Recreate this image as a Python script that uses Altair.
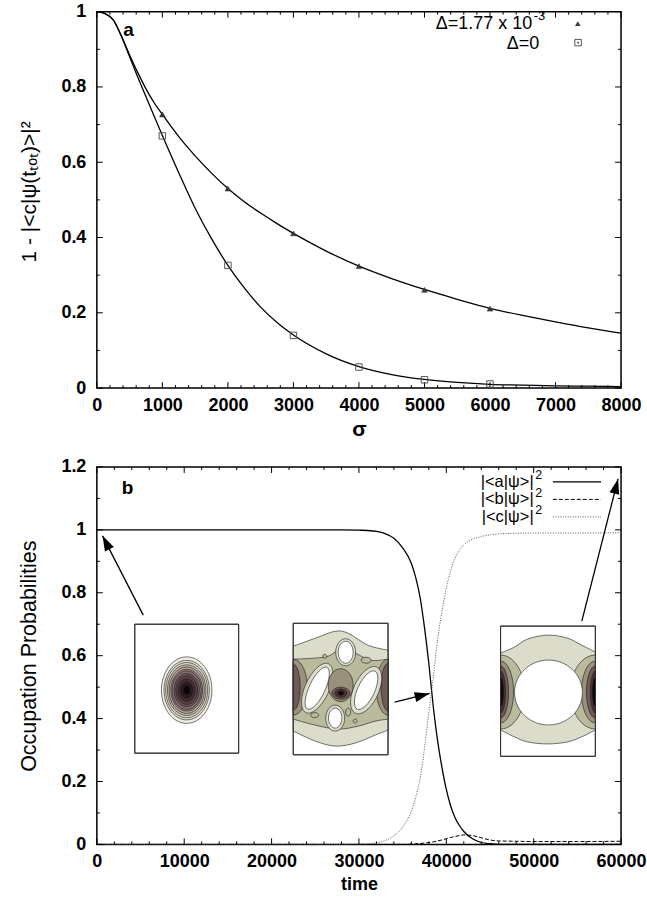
import math
import altair as alt
import pandas as pd

FONT = "Liberation Sans"

# ---------------- panel a: infidelity versus pulse width ----------------
SIGMA_FIT = [0, 125, 250, 375, 500, 625, 750, 875, 1000, 1250, 1500, 1750, 2000, 2250, 2500,
             2750, 3000, 3500, 4000, 4500, 5000, 5500, 6000, 6500, 7000, 7500, 8000]
FIT_DETUNED = [1.0, 0.995, 0.978, 0.935, 0.885, 0.838, 0.795, 0.758, 0.727, 0.668, 0.617,
               0.571, 0.530, 0.495, 0.465, 0.437, 0.411, 0.364, 0.324, 0.291, 0.262,
               0.236, 0.212, 0.193, 0.176, 0.160, 0.146]
FIT_RESONANT = [1.0, 0.995, 0.978, 0.935, 0.880, 0.826, 0.774, 0.722, 0.671, 0.572, 0.478,
                0.397, 0.326, 0.266, 0.215, 0.174, 0.141, 0.091, 0.057, 0.036, 0.023,
                0.015, 0.010, 0.008, 0.006, 0.005, 0.004]
SIGMA_SIM = [1000, 2000, 3000, 4000, 5000, 6000]
SIM_DETUNED = [0.727, 0.530, 0.411, 0.324, 0.261, 0.211]
SIM_RESONANT = [0.670, 0.326, 0.140, 0.056, 0.022, 0.011]

# ---------------- panel b: occupation probabilities in time ----------------
TIME = [0, 10000, 20000, 28000, 30000, 31000, 32000, 33000, 34000, 35000, 36000, 36500,
        37000, 37500, 38000, 38500, 39000, 39500, 40000, 40500, 41000, 41500, 42000,
        43000, 44000, 45000, 46000, 48000, 50000, 55000, 60000]
POP_A = [1.0, 1.0, 1.0, 1.0, 0.999, 0.998, 0.995, 0.988, 0.973, 0.943, 0.893, 0.848,
         0.785, 0.69, 0.575, 0.44, 0.33, 0.245, 0.175, 0.122, 0.085, 0.06, 0.041,
         0.018, 0.006, 0.002, 0.0, 0.0, 0.0, 0.0, 0.0]
POP_B = [0.0, 0.0, 0.0, 0.0, 0.0, 0.0, 0.0, 0.0, 0.0, 0.0, 0.001, 0.002,
         0.003, 0.004, 0.006, 0.008, 0.011, 0.014, 0.018, 0.022, 0.025, 0.028, 0.030,
         0.028, 0.021, 0.014, 0.011, 0.010, 0.009, 0.009, 0.010]
POP_C = [0.0, 0.0, 0.0, 0.0, 0.001, 0.002, 0.005, 0.012, 0.027, 0.055, 0.105, 0.15,
         0.21, 0.305, 0.42, 0.53, 0.65, 0.74, 0.815, 0.87, 0.91, 0.935, 0.952,
         0.97, 0.979, 0.984, 0.987, 0.989, 0.99, 0.99, 0.991]

# wavefunction snapshots: frames in (time, probability) coordinates
INSET_T0 = [4340, 22480, 46210]
INSET_T1 = [16230, 33330, 57060]
INSET_P0 = [0.29, 0.285, 0.28]
INSET_P1 = [0.70, 0.703, 0.694]

# arrows tying the snapshots to the curves
ARROW_T_TAIL = [5310, 34090, 55510]
ARROW_P_TAIL = [0.729, 0.452, 0.710]
ARROW_T_TIP = [650, 38090, 59660]
ARROW_P_TIP = [0.981, 0.480, 1.162]

W, H_A, H_B = 525, 377, 378
T_MAX, P_MAX = 60000, 1.2
PX_T = W / T_MAX
PX_P = H_B / P_MAX

xs_a = alt.Scale(domain=[0, 8000], nice=False, zero=False)
ys_a = alt.Scale(domain=[0, 1], nice=False, zero=False)
xs_b = alt.Scale(domain=[0, T_MAX], nice=False, zero=False)
ys_b = alt.Scale(domain=[0, P_MAX], nice=False, zero=False)

ax_xa = alt.Axis(values=list(range(0, 8001, 1000)), format="d", title="σ",
                 titleFontSize=21, titleFontWeight="bold", labelPadding=8, titlePadding=4)
ax_ya = alt.Axis(values=[0, 0.2, 0.4, 0.6, 0.8, 1], format="~g",
                 title="1 - |<c|ψ(tₜₒₜ)>|²", titleFontSize=21, titleFontWeight="normal",
                 labelPadding=11, minExtent=40, maxExtent=40, titlePadding=17, titleY=180)
ax_xb = alt.Axis(values=list(range(0, 60001, 10000)), format="d", title="time",
                 titleFontSize=18, titleFontWeight="bold", labelPadding=8.5, titlePadding=5)
ax_yb = alt.Axis(values=[0, 0.2, 0.4, 0.6, 0.8, 1, 1.2], format="~g",
                 title="Occupation Probabilities", titleFontSize=21.5,
                 titleFontWeight="normal", labelPadding=11, minExtent=40, maxExtent=40,
                 titlePadding=16.5)


def frame_ticks(xs, ys, ax, ay, xmaj, xmin, ymaj, ymin, w, h):
    """Inward ticks on all four sides of the frame."""
    out = []
    for vals, ln in ((xmaj, 6), (xmin, 3)):
        d = pd.DataFrame({"v": vals})
        base = alt.Chart(d).mark_rule(color="black", strokeWidth=1)
        out.append(base.encode(x=alt.X("v:Q", scale=xs, axis=ax),
                               y=alt.value(h), y2=alt.value(h - ln)))
        out.append(base.encode(x=alt.X("v:Q", scale=xs, axis=ax),
                               y=alt.value(0), y2=alt.value(ln)))
    for vals, ln in ((ymaj, 6), (ymin, 3)):
        d = pd.DataFrame({"v": vals})
        base = alt.Chart(d).mark_rule(color="black", strokeWidth=1)
        out.append(base.encode(y=alt.Y("v:Q", scale=ys, axis=ay),
                               x=alt.value(0), x2=alt.value(ln)))
        out.append(base.encode(y=alt.Y("v:Q", scale=ys, axis=ay),
                               x=alt.value(w), x2=alt.value(w - ln)))
    return out


def text_at(s, x, y, size=18, align="left", weight="normal"):
    return alt.Chart(pd.DataFrame({"s": [s]})).mark_text(
        align=align, baseline="alphabetic", font=FONT, fontSize=size,
        fontWeight=weight, color="black"
    ).encode(x=alt.value(x), y=alt.value(y), text="s:N")


# ---------------- contour drawing helpers (local pixel units) ----------------
K = 0.5523


def _fmt(pts):
    return " ".join(f"{x:.2f},{y:.2f}" for x, y in pts)


def ellipse_path(cx, cy, rx, ry, rot=0.0):
    a = math.radians(rot)
    c, s = math.cos(a), math.sin(a)
    raw = [(0, -ry), (K * rx, -ry), (rx, -K * ry), (rx, 0), (rx, K * ry), (K * rx, ry),
           (0, ry), (-K * rx, ry), (-rx, K * ry), (-rx, 0), (-rx, -K * ry), (-K * rx, -ry),
           (0, -ry)]
    p = [(cx + x * c - y * s, cy + x * s + y * c) for x, y in raw]
    return (f"M{_fmt(p[:1])} C{_fmt(p[1:4])} C{_fmt(p[4:7])} "
            f"C{_fmt(p[7:10])} C{_fmt(p[10:13])} Z")


def half_ellipse_path(x0, cy, rx, ry, d):
    p = [(x0, cy - ry), (x0 + d * K * rx, cy - ry), (x0 + d * rx, cy - K * ry),
         (x0 + d * rx, cy), (x0 + d * rx, cy + K * ry), (x0 + d * K * rx, cy + ry),
         (x0, cy + ry)]
    return f"M{_fmt(p[:1])} C{_fmt(p[1:4])} C{_fmt(p[4:7])} Z"


def _smooth(pts):
    segs = []
    n = len(pts)
    for i in range(n - 1):
        p0 = pts[max(i - 1, 0)]
        p1, p2 = pts[i], pts[i + 1]
        p3 = pts[min(i + 2, n - 1)]
        c1 = (p1[0] + (p2[0] - p0[0]) / 6, p1[1] + (p2[1] - p0[1]) / 6)
        c2 = (p2[0] - (p3[0] - p1[0]) / 6, p2[1] - (p3[1] - p1[1]) / 6)
        segs.append(f"C{_fmt([c1, c2, p2])}")
    return " ".join(segs)


def band_path(top, bottom):
    bot = list(reversed(bottom))
    return (f"M{_fmt(top[:1])} {_smooth(top)} L{_fmt(bot[:1])} {_smooth(bot)} Z")


LIGHT, OLIVE, TAUPE = "#dcdccb", "#babb9d", "#9a907c"
BROWN, DARK, BLACK = "#6f5a55", "#4a3432", "#120808"
RING_COLORS = ["#eeede3", "#e4e1d3", "#d8d3c3", "#c9c0b2", "#b5a79e", "#9f8a86",
               "#886f71", "#70575c", "#5a4248", "#432e33", "#2b1a1e", "#0a0505"]
RING_FRAC = [1.0, 0.895, 0.83, 0.76, 0.70, 0.63, 0.58, 0.50, 0.43, 0.34, 0.24, 0.13]

shapes = []


def add(i, path, fill):
    shapes.append({"t": INSET_T0[i], "p": INSET_P1[i], "path": path, "fill": fill,
                   "z": len(shapes)})


# snapshot 1: localized ground-state packet
for f, col in zip(RING_FRAC, RING_COLORS):
    add(0, ellipse_path(52, 66, 25.3 * f, 33.3 * f), col)

# snapshot 2: mid-transfer pattern
add(1, band_path([(0, 23), (22, 15), (42, 8), (55, 10), (75, 22), (95, 27)],
                 [(0, 108), (22, 118), (42, 123), (62, 120), (82, 112), (95, 107)]), LIGHT)
add(1, band_path([(0, 36), (20, 35), (35, 33), (48, 26), (62, 30), (78, 37), (95, 36)],
                 [(0, 96), (22, 102), (45, 106), (65, 103), (82, 98), (95, 96)]), OLIVE)
add(1, half_ellipse_path(0, 64, 14, 28, 1), TAUPE)
add(1, half_ellipse_path(0, 64, 7, 23, 1), BROWN)
add(1, half_ellipse_path(95, 64, 12, 28, -1), TAUPE)
add(1, half_ellipse_path(95, 64, 7, 24, -1), BROWN)
add(1, ellipse_path(52.5, 29, 10, 13.5), LIGHT)
add(1, ellipse_path(24, 65, 12, 27, 25), LIGHT)
add(1, ellipse_path(73, 67, 12.5, 25.5, 25), LIGHT)
add(1, ellipse_path(42, 95, 9.5, 13), LIGHT)
add(1, ellipse_path(47.5, 62, 12.5, 16.5), TAUPE)
add(1, ellipse_path(52.5, 29, 7.5, 11), "#ffffff")
add(1, ellipse_path(24, 65, 8, 23, 25), "#ffffff")
add(1, ellipse_path(73, 67, 8.5, 21, 25), "#ffffff")
add(1, ellipse_path(42, 95, 6.7, 10), "#ffffff")
add(1, ellipse_path(73, 37, 5, 3), OLIVE)
add(1, ellipse_path(31.5, 33, 2, 2), OLIVE)
add(1, ellipse_path(55, 89, 2.5, 4), OLIVE)
add(1, ellipse_path(21.5, 92, 4, 2.5), OLIVE)
add(1, ellipse_path(62, 98, 2, 2), OLIVE)
add(1, ellipse_path(47.7, 70, 9, 6), BROWN)
add(1, ellipse_path(47.7, 70, 6, 4), DARK)
add(1, ellipse_path(47.7, 70, 3, 2), BLACK)

# snapshot 3: packet transferred to the outer well
add(2, band_path([(0, 27), (14, 21), (27, 13), (47, 9), (67, 12), (81, 19), (95, 26)],
                 [(0, 104), (14, 111), (27, 116), (47, 118), (67, 116), (81, 111), (95, 104)]),
    LIGHT)
for rx_l, rx_r, ry, col in ((24, 25, 37, OLIVE), (13, 14, 31, TAUPE), (8, 9, 26, BROWN),
                            (5, 5, 21, DARK), (3, 3, 15, BLACK)):
    add(2, half_ellipse_path(0, 66, rx_l, ry, 1), col)
    add(2, half_ellipse_path(95, 66, rx_r, ry, -1), col)
add(2, ellipse_path(48, 66.5, 34, 32.5), "#ffffff")

shapes_df = pd.DataFrame(shapes)

# ---------------- panel a ----------------
fit_df = pd.concat([
    pd.DataFrame({"sigma": SIGMA_FIT, "val": FIT_DETUNED, "run": "detuned"}),
    pd.DataFrame({"sigma": SIGMA_FIT, "val": FIT_RESONANT, "run": "resonant"}),
])
curves_a = alt.Chart(fit_df).mark_line(
    color="black", strokeWidth=1.3, interpolate="monotone"
).encode(
    x=alt.X("sigma:Q", scale=xs_a, axis=ax_xa),
    y=alt.Y("val:Q", scale=ys_a, axis=ax_ya),
    detail="run:N",
)
tri = alt.Chart(pd.DataFrame({"sigma": SIGMA_SIM, "val": SIM_DETUNED})).mark_point(
    shape="triangle-up", filled=True, size=32, color="#3a3a3a", opacity=1,
    stroke="#222222", strokeWidth=0.5
).encode(x=alt.X("sigma:Q", scale=xs_a, axis=ax_xa), y=alt.Y("val:Q", scale=ys_a, axis=ax_ya))
sqr = alt.Chart(pd.DataFrame({"sigma": SIGMA_SIM, "val": SIM_RESONANT})).mark_point(
    shape="square", filled=False, size=42, color="#555555", opacity=1, strokeWidth=1
).encode(x=alt.X("sigma:Q", scale=xs_a, axis=ax_xa), y=alt.Y("val:Q", scale=ys_a, axis=ax_ya))

one = pd.DataFrame({"k": [0]})
legend_a = [
    text_at("Δ=1.77 x 10", 436, 17, align="right"),
    text_at("-3", 437.5, 8.5, size=13),
    text_at("Δ=0", 443, 37.5, align="right"),
    alt.Chart(one).mark_point(shape="triangle-up", filled=True, size=32, color="#3a3a3a",
                              opacity=1).encode(x=alt.value(481.7), y=alt.value(12)),
    alt.Chart(one).mark_point(shape="square", filled=False, size=42, color="#555555",
                              opacity=1, strokeWidth=1).encode(x=alt.value(482), y=alt.value(31)),
    alt.Chart(one).mark_point(shape="square", filled=True, size=3, color="#555555",
                              opacity=1).encode(x=alt.value(482), y=alt.value(31)),
    text_at("a", 31.7, 24.7, size=19, align="center", weight="bold"),
]

ticks_a = frame_ticks(
    xs_a, ys_a, ax_xa, ax_ya,
    list(range(0, 8001, 1000)), [v for v in range(0, 8001, 200) if v % 1000],
    [0, 0.2, 0.4, 0.6, 0.8, 1.0], [0.1, 0.3, 0.5, 0.7, 0.9],
    W, H_A)

panel_a = alt.layer(curves_a, *ticks_a, tri, sqr, *legend_a).properties(width=W, height=H_A)

# ---------------- panel b ----------------
pop_df = pd.DataFrame({"time": TIME, "a": POP_A, "b": POP_B, "c": POP_C})
xb = alt.X("time:Q", scale=xs_b, axis=ax_xb)
line_a = alt.Chart(pop_df).mark_line(color="black", strokeWidth=1.3,
                                     interpolate="monotone").encode(
    x=xb, y=alt.Y("a:Q", scale=ys_b, axis=ax_yb))
line_b = alt.Chart(pop_df).mark_line(color="black", strokeWidth=1, strokeDash=[4, 2],
                                     interpolate="monotone").encode(
    x=xb, y=alt.Y("b:Q", scale=ys_b, axis=ax_yb))
line_c = alt.Chart(pop_df).mark_line(color="#555555", strokeWidth=1, strokeDash=[1, 1.5],
                                     interpolate="monotone").encode(
    x=xb, y=alt.Y("c:Q", scale=ys_b, axis=ax_yb))

box_df = pd.DataFrame({"t0": INSET_T0, "t1": INSET_T1, "p0": INSET_P0, "p1": INSET_P1})
boxes = alt.Chart(box_df).mark_rect(fill="white", stroke="#333333", strokeWidth=1).encode(
    x=alt.X("t0:Q", scale=xs_b, axis=ax_xb), x2="t1:Q",
    y=alt.Y("p0:Q", scale=ys_b, axis=ax_yb), y2="p1:Q")
contours = alt.Chart(shapes_df).mark_point(
    filled=True, opacity=1, stroke="#1a1a1a", strokeWidth=0.6, size=4
).encode(
    x=alt.X("t:Q", scale=xs_b, axis=ax_xb),
    y=alt.Y("p:Q", scale=ys_b, axis=ax_yb),
    shape=alt.Shape("path:N", scale=None),
    fill=alt.Fill("fill:N", scale=None),
    order=alt.Order("z:Q"),
)
box_edges = alt.Chart(box_df).mark_rect(fill=None, stroke="#333333", strokeWidth=1).encode(
    x=alt.X("t0:Q", scale=xs_b, axis=ax_xb), x2="t1:Q",
    y=alt.Y("p0:Q", scale=ys_b, axis=ax_yb), y2="p1:Q")

arr_df = pd.DataFrame({"tt": ARROW_T_TAIL, "pt": ARROW_P_TAIL,
                       "th": ARROW_T_TIP, "ph": ARROW_P_TIP})
arr_df["ang"] = [
    math.degrees(math.atan2((th - tt) * PX_T, (ph - pt) * PX_P)) % 360
    for tt, pt, th, ph in zip(ARROW_T_TAIL, ARROW_P_TAIL, ARROW_T_TIP, ARROW_P_TIP)
]
arrow_lines = alt.Chart(arr_df).mark_rule(color="black", strokeWidth=1.3).encode(
    x=alt.X("tt:Q", scale=xs_b, axis=ax_xb), y=alt.Y("pt:Q", scale=ys_b, axis=ax_yb),
    x2="th:Q", y2="ph:Q")
arrow_heads = alt.Chart(arr_df).mark_point(
    shape="M0,0 L-5,15 L5,15 Z", filled=True, color="black", opacity=1, size=4
).encode(x=alt.X("th:Q", scale=xs_b, axis=ax_xb), y=alt.Y("ph:Q", scale=ys_b, axis=ax_yb),
         angle=alt.Angle("ang:Q", scale=None))

legend_b = [
    text_at("|<a|ψ>|", 437.5, 20, align="right", size=16.5),
    text_at("2", 439, 12.5, size=12.5),
    text_at("|<b|ψ>|", 437.5, 37.5, align="right", size=16.5),
    text_at("2", 439, 30, size=12.5),
    text_at("|<c|ψ>|", 437.5, 55, align="right", size=16.5),
    text_at("2", 439, 47.5, size=12.5),
    alt.Chart(one).mark_rule(color="black", strokeWidth=1.3).encode(
        x=alt.value(456.7), x2=alt.value(505), y=alt.value(15)),
    alt.Chart(one).mark_rule(color="black", strokeWidth=1, strokeDash=[4, 2]).encode(
        x=alt.value(456.7), x2=alt.value(505), y=alt.value(32.5)),
    alt.Chart(one).mark_rule(color="#555555", strokeWidth=1, strokeDash=[1, 1.5]).encode(
        x=alt.value(456.7), x2=alt.value(505), y=alt.value(50)),
    text_at("b", 30.8, 26.7, size=19, align="center", weight="bold"),
]

ticks_b = frame_ticks(
    xs_b, ys_b, ax_xb, ax_yb,
    list(range(0, 60001, 10000)), [v for v in range(0, 60001, 2000) if v % 10000],
    [0, 0.2, 0.4, 0.6, 0.8, 1.0, 1.2], [0.1, 0.3, 0.5, 0.7, 0.9, 1.1],
    W, H_B)

panel_b = alt.layer(
    line_a, line_b, line_c, boxes, contours, box_edges, *ticks_b,
    arrow_lines, arrow_heads, *legend_b
).properties(width=W, height=H_B)

chart = alt.vconcat(panel_a, panel_b, spacing=17).properties(
    padding={"left": 17, "top": 1, "right": 0, "bottom": 0}
).configure_view(
    stroke="black", strokeWidth=1.5
).configure_axis(
    domain=False, ticks=False, tickSize=0, grid=False,
    labelFont=FONT, labelFontSize=18, labelFontWeight="bold", labelColor="black",
    titleFont=FONT, titleColor="black", labelFlush=False, labelOverlap=False,
)

chart.save("out.html", embed_options={"renderer": "svg", "actions": False})
